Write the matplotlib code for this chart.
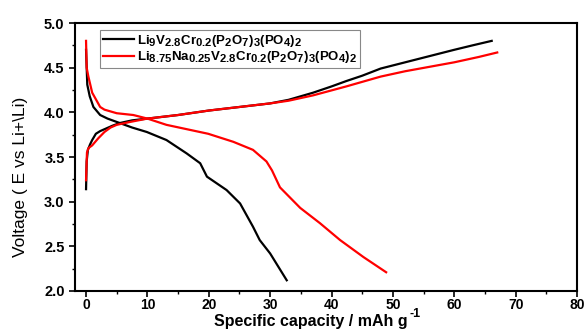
import numpy as np
import matplotlib
matplotlib.use('Agg')
import matplotlib.pyplot as plt
import matplotlib._mathtext as mathtext_internal
from matplotlib.ticker import MultipleLocator

plt.rcParams['font.family'] = ['Liberation Sans', 'DejaVu Sans']
plt.rcParams['mathtext.fontset'] = 'custom'
plt.rcParams['mathtext.rm'] = 'Liberation Sans:bold'
plt.rcParams['mathtext.it'] = 'Liberation Sans:bold'
plt.rcParams['mathtext.bf'] = 'Liberation Sans:bold'
# subscripts in the original legend are nearly full size
mathtext_internal.SHRINK_FACTOR = 0.85

# Charge / discharge curves (capacity in mAh/g, voltage in V)
black_charge_cap = [0, 0.1, 0.3, 0.65, 1.0, 1.6, 2.3, 3.3, 4.3, 5.5, 7.5, 10, 15, 20, 25, 30, 33, 37, 40, 42.4, 45, 48, 52, 56, 60, 63, 66.1]
black_charge_v = [3.14, 3.45, 3.58, 3.64, 3.69, 3.76, 3.79, 3.82, 3.85, 3.88, 3.91, 3.93, 3.97, 4.02, 4.06, 4.1, 4.14, 4.22, 4.29, 4.35, 4.41, 4.49, 4.56, 4.63, 4.70, 4.75, 4.80]

red_charge_cap = [0, 0.15, 0.4, 1.0, 1.5, 2.0, 3.0, 4.0, 5.0, 7.0, 10, 15, 20, 25, 30, 33, 37, 42.4, 48, 52, 56, 60, 64, 67]
red_charge_v = [3.24, 3.55, 3.60, 3.63, 3.67, 3.71, 3.78, 3.83, 3.86, 3.89, 3.93, 3.97, 4.02, 4.06, 4.10, 4.13, 4.19, 4.29, 4.40, 4.46, 4.51, 4.56, 4.62, 4.67]

black_dis_cap = [0, 0.2, 0.6, 1.2, 2.3, 3.5, 5.5, 7.5, 9.9, 13.1, 16.4, 18.6, 19.7, 22.9, 25.1, 27.2, 28.3, 30.0, 32.7]
black_dis_v = [4.70, 4.31, 4.18, 4.06, 3.97, 3.93, 3.88, 3.83, 3.78, 3.69, 3.54, 3.43, 3.28, 3.13, 2.98, 2.72, 2.57, 2.42, 2.12]

red_dis_cap = [0, 0.1, 0.38, 1.0, 2.3, 3.0, 5.0, 7.7, 10, 13.1, 16.5, 19.9, 24.0, 27.2, 29.4, 30.3, 31.6, 34.9, 38.1, 41.4, 45.2, 48.9]
red_dis_v = [4.80, 4.50, 4.40, 4.22, 4.06, 4.03, 3.99, 3.97, 3.93, 3.86, 3.81, 3.76, 3.67, 3.58, 3.45, 3.35, 3.16, 2.93, 2.76, 2.57, 2.38, 2.21]

label_black = r'$\mathrm{Li_9V_{2.8}Cr_{0.2}(P_2O_7)_3(PO_4)_2}$'
label_red = r'$\mathrm{Li_{8.75}Na_{0.25}V_{2.8}Cr_{0.2}(P_2O_7)_3(PO_4)_2}$'

fig = plt.figure(figsize=(5.87, 3.29), dpi=100)
ax = fig.add_axes([75 / 587, 1 - 291 / 329, (577 - 75) / 587, (291 - 23) / 329])

ax.plot(black_charge_cap, black_charge_v, color='black', lw=1.6, label=label_black)
ax.plot(black_dis_cap, black_dis_v, color='black', lw=1.6)
ax.plot(red_charge_cap, red_charge_v, color='red', lw=1.6, label=label_red)
ax.plot(red_dis_cap, red_dis_v, color='red', lw=1.6)

ax.set_xlim(-1.8, 80)
ax.set_ylim(2.0, 5.0)
ax.xaxis.set_major_locator(MultipleLocator(10))
ax.xaxis.set_minor_locator(MultipleLocator(5))
ax.yaxis.set_major_locator(MultipleLocator(0.5))
ax.yaxis.set_minor_locator(MultipleLocator(0.25))
ax.tick_params(which='major', direction='out', length=4, width=1.2, labelsize=10.5)
ax.tick_params(axis='x', which='major', pad=1, labelsize=10)
ax.tick_params(which='minor', direction='out', length=2.5, width=1.0)
for lab in ax.get_xticklabels() + ax.get_yticklabels():
    lab.set_fontweight('bold')
for sp in ax.spines.values():
    sp.set_linewidth(1.5)

ax.set_ylabel('Voltage ( E vs Li+\\Li)', fontsize=12.5)
ax.yaxis.set_label_coords(-0.094, 0.425)
ax.set_xlabel('Specific capacity / mAh g', fontsize=11.5, fontweight='bold')
ax.xaxis.set_label_coords(0.47, -0.142)
ax.xaxis.label.set_va('bottom')
# superscript -1 placed after the "g" of the axis label
ax.annotate('-1', xy=(1, 0.62), xycoords=ax.xaxis.label, xytext=(1, 0),
            textcoords='offset points', fontsize=9, fontweight='bold', va='bottom')

leg = ax.legend(loc='upper left', bbox_to_anchor=(0.05, 0.974), fontsize=9.5,
                handlelength=2.4, handletextpad=0.2, borderpad=0.2, labelspacing=0.05,
                borderaxespad=0, fancybox=False, framealpha=1)
leg.get_frame().set_edgecolor('#888888')
leg.get_frame().set_linewidth(0.8)

fig.savefig('out.png', dpi=100)
